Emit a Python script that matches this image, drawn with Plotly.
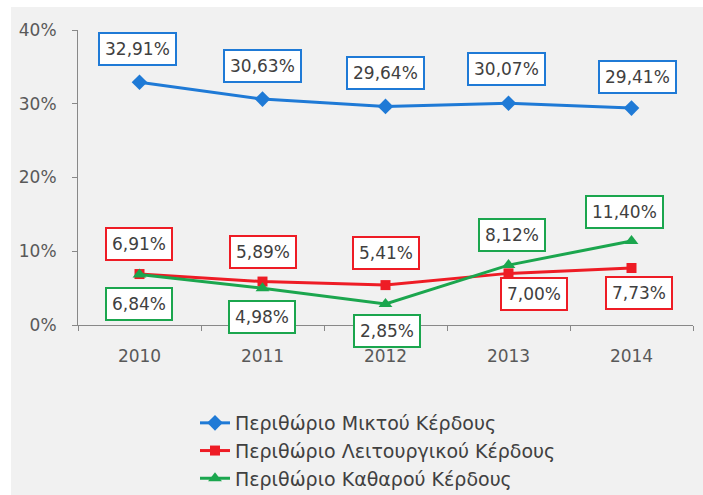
import plotly.graph_objects as go

years = ["2010", "2011", "2012", "2013", "2014"]
gross = [32.91, 30.63, 29.64, 30.07, 29.41]
operating = [6.91, 5.89, 5.41, 7.00, 7.73]
net = [6.84, 4.98, 2.85, 8.12, 11.40]
names = ["Περιθώριο Μικτού Κέρδους", "Περιθώριο Λειτουργικού Κέρδους", "Περιθώριο Καθαρού Κέρδους"]
y_ticks = [0, 10, 20, 30, 40]
y_tick_labels = ["0%", "10%", "20%", "30%", "40%"]

colors = ["#1F7AD6", "#EE1C25", "#1BA64E"]
symbols = ["diamond", "square", "triangle-up"]
msizes = [12, 10, 12]
series = [gross, operating, net]

# label placement: (xshift, yshift) per point
shifts = [
    [(-2, 33), (0, 33), (0, 33), (-2, 34), (6, 31)],
    [(-1, 30), (0, 30), (0, 32), (25, -21), (7, -25)],
    [(-1, -29), (-1, -29), (1, -27), (3, 30), (-7, 29)],
]

FONT = "DejaVu Sans"
L, R, T, B = 78, 10, 30, 170
W, H = 703, 495
pw, ph = W - L - R, H - T - B

fig = go.Figure()
for i, vals in enumerate(series):
    fig.add_trace(go.Scatter(
        x=years, y=vals, name=names[i], mode="lines+markers",
        line=dict(color=colors[i], width=3),
        marker=dict(symbol=symbols[i], size=msizes[i], color=colors[i]),
        legendgroup=str(i),
    ))

for i, vals in enumerate(series):
    for j, v in enumerate(vals):
        xs, ys = shifts[i][j]
        fig.add_annotation(
            x=j, y=v, xref="x", yref="y",
            text=f"{v:.2f}".replace(".", ",") + "%",
            showarrow=False, xshift=xs, yshift=ys,
            font=dict(family=FONT, size=17, color="#404040"),
            bgcolor="white", bordercolor=colors[i], borderwidth=2, borderpad=5,
        )

# grey chart area inside a thin white page border
fig.add_shape(type="rect", xref="paper", yref="paper", layer="below",
              x0=(11 - L) / pw, x1=1 + (R + 20) / pw,
              y0=-(B + 20) / ph, y1=(ph + T - 7) / ph,
              fillcolor="#F1F1F1", line=dict(width=0))

fig.update_layout(
    width=W, height=H,
    margin=dict(l=L, r=R, t=T, b=B, autoexpand=False),
    paper_bgcolor="white", plot_bgcolor="rgba(0,0,0,0)",
    showlegend=True,
    legend=dict(
        x=(195 - L) / pw, y=-(404 - T - ph) / ph, xanchor="left", yanchor="top",
        font=dict(family=FONT, size=19, color="#404040"),
        bgcolor="rgba(0,0,0,0)", tracegroupgap=4, traceorder="normal",
    ),
    xaxis=dict(
        type="category", range=[-0.5, 4.5],
        showline=True, linecolor="#888888", linewidth=1,
        ticks="outside", ticklen=5, tickcolor="#888888",
        tickson="boundaries", showgrid=False, zeroline=False,
        tickfont=dict(family=FONT, size=17, color="#595959"),
        ticklabelstandoff=16,
    ),
    yaxis=dict(
        range=[0, 40], tickvals=y_ticks, ticktext=y_tick_labels,
        showline=True, linecolor="#888888", linewidth=1,
        ticks="outside", ticklen=5, tickcolor="#888888",
        showgrid=False, zeroline=False,
        tickfont=dict(family=FONT, size=17, color="#595959"),
        ticklabelstandoff=12,
    ),
)

fig.write_html("out.html", config={"displayModeBar": False},
               post_script="document.body.style.margin='0';")
